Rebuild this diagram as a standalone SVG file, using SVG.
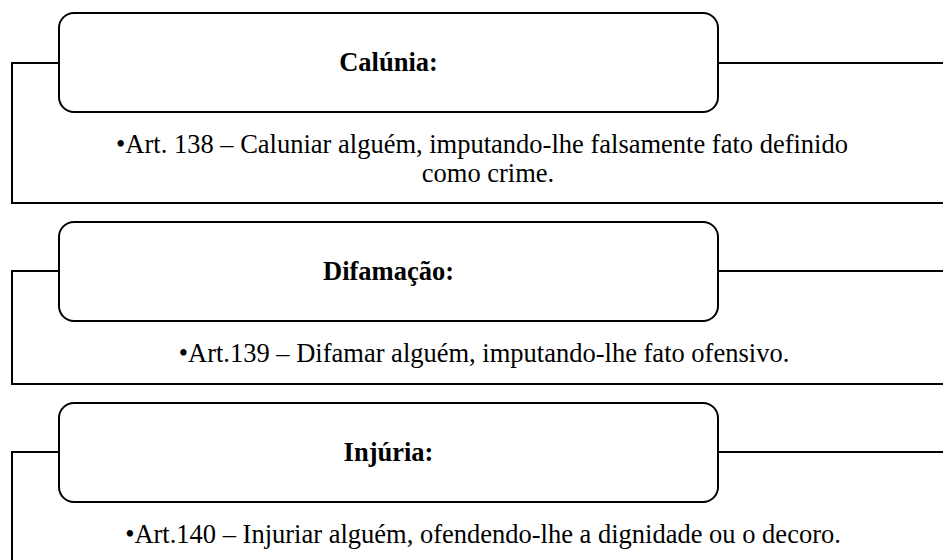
<svg xmlns="http://www.w3.org/2000/svg" width="943" height="560" viewBox="0 0 943 560">
<style>
.frame{fill:none;stroke:#000;stroke-width:2}
.box{fill:#fff;stroke:#000;stroke-width:2}
.hd{font-family:"Liberation Serif","Times New Roman",serif;font-size:26.5px;font-weight:bold;fill:#000;text-anchor:middle}
.tx{font-family:"Liberation Serif","Times New Roman",serif;font-size:26.5px;fill:#000;text-anchor:middle}
</style>
<rect width="943" height="560" fill="#fff"/>
<g id="connectors">
<path class="frame" d="M59,63 H12 V203 H945"/>
<path class="frame" d="M718,63 H945"/>
<path class="frame" d="M59,271 H12 V384 H945"/>
<path class="frame" d="M718,271 H945"/>
<path class="frame" d="M59,452 H12 V565"/>
<path class="frame" d="M718,452 H945"/>
</g>
<g id="node-calunia">
<rect class="box" x="59" y="13" width="659" height="99" rx="15"/>
<text class="hd" x="388.5" y="71">Calúnia:</text>
</g>
<g id="node-calunia-text">
<text class="tx" x="482" y="153">•Art. 138 – Caluniar alguém, imputando-lhe falsamente fato definido</text>
<text class="tx" x="488" y="182">como crime.</text>
</g>
<g id="node-difamacao">
<rect class="box" x="59" y="222" width="659" height="99" rx="15"/>
<text class="hd" x="388.5" y="280">Difamação:</text>
</g>
<g id="node-difamacao-text">
<text class="tx" x="484" y="362">•Art.139 – Difamar alguém, imputando-lhe fato ofensivo.</text>
</g>
<g id="node-injuria">
<rect class="box" x="59" y="403" width="659" height="99" rx="15"/>
<text class="hd" x="388.5" y="461">Injúria:</text>
</g>
<g id="node-injuria-text">
<text class="tx" x="483" y="543">•Art.140 – Injuriar alguém, ofendendo-lhe a dignidade ou o decoro.</text>
</g>
</svg>
